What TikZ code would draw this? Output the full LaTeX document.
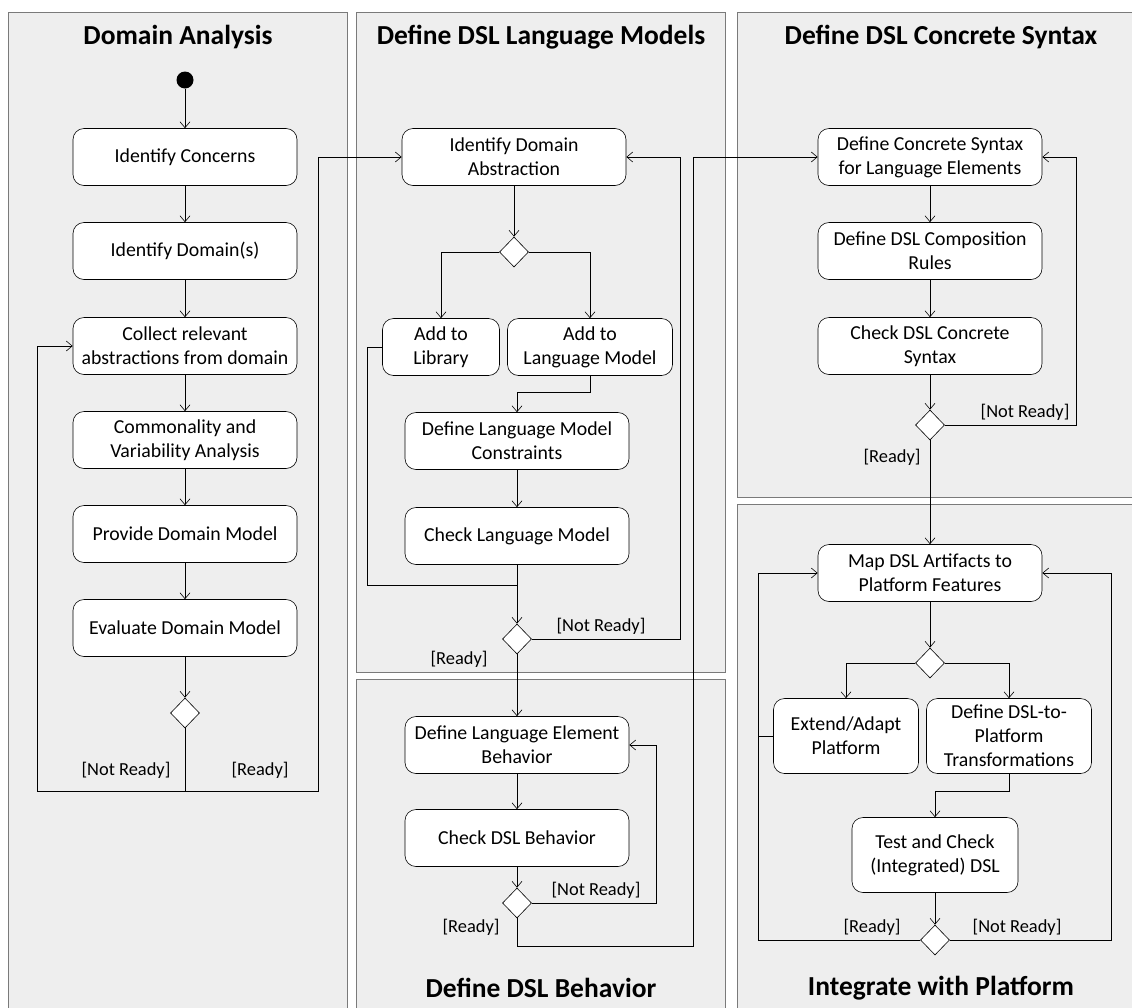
\documentclass[tikz,border=0pt]{standalone}
\usepackage{fontspec}
\setmainfont{Carlito}
\usetikzlibrary{arrows.meta, shapes.geometric, positioning}

\definecolor{lanegray}{HTML}{EEEEEE}
\definecolor{laneline}{HTML}{7A7A7A}

\tikzset{
  lane/.style={draw=laneline, fill=lanegray, line width=0.9pt},
  lanetitle/.style={font=\fontsize{27.5}{32}\selectfont\bfseries},
  act/.style={draw, fill=white, rounded corners=11pt, align=center, minimum width=224pt,
    minimum height=57pt, inner sep=2pt, font=\fontsize{19.8}{24}\selectfont, line width=0.6pt},
  choice/.style={draw, fill=white, diamond, aspect=1, minimum width=29pt, minimum height=30pt,
    inner sep=0pt, line width=0.6pt},
  startdot/.style={circle, fill=black, minimum size=17pt, inner sep=0pt},
  guard/.style={font=\fontsize{18.4}{22}\selectfont},
  flow/.style={-{Straight Barb[length=6pt,width=10pt]}, line width=0.6pt},
  link/.style={line width=0.6pt},
}

\begin{document}
\begin{tikzpicture}[x=1pt, y=-1pt]
  \clip (0,0) rectangle (1132,1007);
  \fill[white] (0,0) rectangle (1132,1007);

  % --- SWIMLANES ---
  \draw[lane] (8,12) rectangle (347,1030);
  \draw[lane] (356,12) rectangle (725,672);
  \draw[lane] (356,679) rectangle (725,1030);
  \draw[lane] (737,12) rectangle (1150,497);
  \draw[lane] (737,504) rectangle (1150,1030);
  \node[lanetitle] (tA) at (178,37) {Domain Analysis};
  \node[lanetitle] (tB) at (541,37) {Define DSL Language Models};
  \node[lanetitle] (tC) at (941,37) {Define DSL Concrete Syntax};
  \node[lanetitle] (tD) at (541,988) {Define DSL Behavior};
  \node[lanetitle] (tE) at (941,988) {Integrate with Platform};

  % --- DOMAIN ANALYSIS ---
  \node[startdot] (init) at (185,80) {};
  \node[act] (concerns) at (185,157) {Identify Concerns};
  \node[act] (domains) at (185,251) {Identify Domain(s)};
  \node[act] (collect) at (185,346) {Collect relevant\\abstractions from domain};
  \node[act] (common) at (185,440) {Commonality and\\Variability Analysis};
  \node[act] (provide) at (185,534) {Provide Domain Model};
  \node[act] (evaluate) at (185,628) {Evaluate Domain Model};
  \node[choice] (dA) at (185,713) {};
  \coordinate (backA) at (37,791);
  \coordinate (readyA) at (318,791);

  % --- LANGUAGE MODELS ---
  \node[act] (abstr) at (514,157) {Identify Domain\\Abstraction};
  \node[choice] (dB) at (514,252) {};
  \node[act, minimum width=117pt] (library) at (441,347) {Add to\\Library};
  \node[act, minimum width=165pt] (langmodel) at (590,347) {Add to\\Language Model};
  \node[act] (constraints) at (517,441) {Define Language Model\\Constraints};
  \node[act] (checklm) at (517,536) {Check Language Model};
  \node[choice] (dC) at (517,639) {};
  \coordinate (libjoin) at (367,585);
  \coordinate (backC) at (680,639);

  % --- BEHAVIOR ---
  \node[act] (elembeh) at (517,745) {Define Language Element\\Behavior};
  \node[act] (checkbeh) at (517,838) {Check DSL Behavior};
  \node[choice] (dD) at (517,903) {};
  \coordinate (backD) at (656,903);
  \coordinate (readyD) at (693,946);

  % --- CONCRETE SYNTAX ---
  \node[act] (concrete) at (930,157) {Define Concrete Syntax\\for Language Elements};
  \node[act] (composition) at (930,251) {Define DSL Composition\\Rules};
  \node[act] (checkcs) at (930,346) {Check DSL Concrete\\Syntax};
  \node[choice] (dE) at (930,425) {};
  \coordinate (backE) at (1076,425);

  % --- PLATFORM ---
  \node[act] (mapping) at (930,573) {Map DSL Artifacts to\\Platform Features};
  \node[choice] (dF) at (930,663) {};
  \node[act, minimum width=145pt, minimum height=75pt] (extend) at (846,736) {Extend/Adapt\\Platform};
  \node[act, minimum width=165pt, minimum height=75pt] (transform) at (1009,736) {Define DSL-to-\\Platform\\Transformations};
  \node[act, minimum width=166pt, minimum height=75pt] (testcheck) at (935,855) {Test and Check\\(Integrated) DSL};
  \node[choice] (dG) at (935,940) {};
  \coordinate (backG) at (758,940);
  \coordinate (backH) at (1111,940);

  % --- FLOWS ---
  \draw[flow] (init) -- (concerns);
  \draw[flow] (concerns) -- (domains);
  \draw[flow] (domains) -- (collect);
  \draw[flow] (collect) -- (common);
  \draw[flow] (common) -- (provide);
  \draw[flow] (provide) -- (evaluate);
  \draw[flow] (evaluate) -- (dA);
  \draw[flow] (dA.south) |- (backA) |- (collect.west);
  \draw[flow] (dA.south) |- (readyA) |- (abstr.west);

  \draw[flow] (abstr) -- (dB);
  \draw[flow] (dB.west) -| (library.north);
  \draw[flow] (dB.east) -| (langmodel.north);
  \draw[flow] (langmodel.south) -- ++(0,16) -| (constraints.north);
  \draw[flow] (constraints) -- (checklm);
  \draw[flow] (checklm) -- (dC);
  \draw[link] (library.west) -| (libjoin) -- (libjoin -| checklm.south);
  \draw[flow] (dC.east) -- (backC) |- (abstr.east);
  \draw[flow] (dC) -- (elembeh);

  \draw[flow] (elembeh) -- (checkbeh);
  \draw[flow] (checkbeh) -- (dD);
  \draw[flow] (dD.east) -- (backD) |- (elembeh.east);
  \draw[flow] (dD.south) |- (readyD) |- (concrete.west);

  \draw[flow] (concrete) -- (composition);
  \draw[flow] (composition) -- (checkcs);
  \draw[flow] (checkcs) -- (dE);
  \draw[flow] (dE.east) -- (backE) |- (concrete.east);
  \draw[flow] (dE) -- (mapping);

  \draw[flow] (mapping) -- (dF);
  \draw[flow] (dF.west) -| (extend.north);
  \draw[flow] (dF.east) -| (transform.north);
  \draw[flow] (transform.south) -- ++(0,17) -| (testcheck.north);
  \draw[flow] (testcheck) -- (dG);
  \draw[flow] (dG.west) -- (backG) |- (mapping.west);
  \draw[link] (extend.west) -- (extend.west -| backG);
  \draw[flow] (dG.east) -- (backH) |- (mapping.east);

  % --- GUARDS ---
  \node[guard] (nrA) at (126,770) {[Not Ready]};
  \node[guard] (rA) at (260,770) {[Ready]};
  \node[guard] (nrC) at (601,626) {[Not Ready]};
  \node[guard] (rC) at (459,659) {[Ready]};
  \node[guard] (nrD) at (596,890) {[Not Ready]};
  \node[guard] (rD) at (471,927) {[Ready]};
  \node[guard] (nrE) at (1025,412) {[Not Ready]};
  \node[guard] (rE) at (892,457) {[Ready]};
  \node[guard] (rG) at (872,927) {[Ready]};
  \node[guard] (nrG) at (1017,927) {[Not Ready]};
\end{tikzpicture}
\end{document}
